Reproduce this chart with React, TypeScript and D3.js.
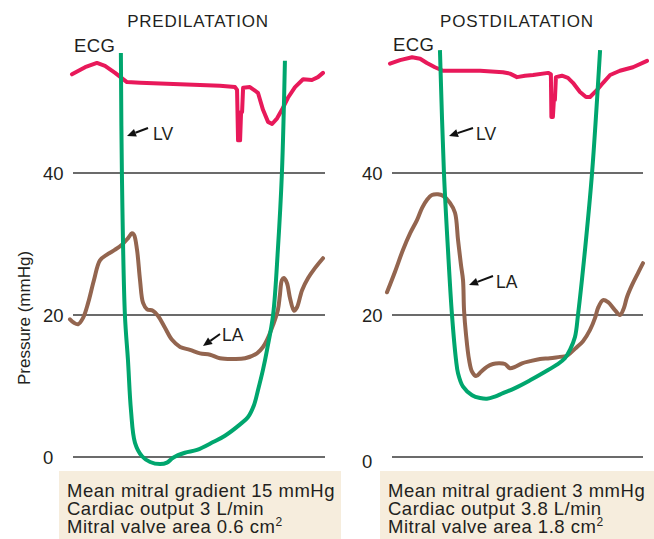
import React from "react";
import * as d3 from "d3";

// ---- data (time in % of cycle, pressure in mmHg) ----
const panelTitles = ["PREDILATATION", "POSTDILATATION"];
const yTicks = [0, 20, 40];

const predilEcg: [number, number][] = [
  [-0.4, 53.9], [4.8, 54.9], [9.5, 55.5], [12.7, 55.1], [16.7, 54.1], [21.4, 52.8],
  [26.6, 52.7], [42.5, 52.5], [58.3, 52.3], [64.3, 52.1], [65.1, 51.7], [65.5, 44.6],
  [66.3, 44.6], [66.7, 48.6], [67.1, 48.6], [67.5, 52.0], [70.2, 52.1], [73.4, 51.3],
  [75.4, 48.9], [77.4, 47.2], [79.0, 46.9], [81.0, 47.7], [82.9, 48.9], [85.3, 50.6],
  [88.1, 52.1], [91.3, 53.2], [94.8, 53.1], [97.2, 53.5], [99.2, 54.1],
];
const predilLv: [number, number][] = [
  [19.0, 56.9], [19.4, 40.0], [20.6, 20.0], [21.8, 13.7], [23.0, 6.6], [24.6, 2.0],
  [27.4, 0.1], [30.6, -0.7], [34.5, -1.0], [37.3, -0.8], [39.7, -0.1], [44.4, 0.6],
  [49.2, 1.0], [55.6, 2.1], [60.3, 3.0], [66.3, 4.6], [69.4, 5.6], [71.8, 7.3],
  [73.4, 9.4], [75.4, 12.3], [77.0, 15.1], [79.4, 20.0], [81.3, 29.2], [82.9, 40.0],
  [84.1, 55.8],
];
const predilLa: [number, number][] = [
  [-1.2, 19.4], [0.4, 18.9], [2.0, 18.7], [4.0, 19.6], [6.0, 21.7], [8.3, 24.9],
  [10.7, 27.7], [13.5, 28.5], [16.7, 29.2], [19.4, 29.9], [21.8, 30.8], [23.4, 31.5],
  [24.2, 31.3], [25.4, 29.2], [26.6, 24.9], [27.8, 21.7], [29.4, 20.8], [31.7, 20.6],
  [33.7, 19.9], [36.5, 18.2], [39.3, 16.5], [42.5, 15.5], [46.4, 15.1], [50.4, 14.6],
  [54.4, 14.4], [58.3, 13.9], [63.5, 13.8], [68.3, 13.9], [73.0, 14.6], [75.4, 15.5],
  [77.0, 16.5], [79.4, 18.6], [81.3, 20.7], [82.1, 22.8], [82.9, 24.9], [83.7, 25.2],
  [84.9, 24.5], [86.1, 22.4], [87.7, 20.6], [88.9, 21.1], [90.9, 23.5], [93.3, 25.2],
  [96.0, 26.6], [99.2, 28.0],
];

const postdilEcg: [number, number][] = [
  [-0.8, 55.4], [3.2, 55.9], [8.0, 56.3], [11.2, 56.1], [13.9, 55.5], [17.1, 54.9],
  [20.3, 54.4], [27.1, 54.4], [35.1, 54.4], [44.2, 54.2], [47.0, 54.0], [49.8, 53.5],
  [53.0, 53.7], [56.2, 53.8], [62.2, 54.1], [63.3, 53.9], [63.5, 47.9], [64.1, 47.9],
  [64.5, 50.3], [64.9, 50.3], [65.3, 53.5], [67.7, 53.7], [70.1, 53.4], [72.1, 52.7],
  [74.9, 51.4], [77.3, 50.7], [78.9, 50.7], [81.7, 51.7], [84.1, 52.7], [86.9, 53.8],
  [90.8, 54.4], [96.0, 54.9], [101.6, 55.8],
];
const postdilLv: [number, number][] = [
  [19.1, 57.3], [20.7, 40.0], [22.3, 29.2], [23.9, 20.0], [25.5, 13.7], [26.3, 11.8],
  [28.3, 9.9], [31.9, 8.7], [35.1, 8.3], [37.8, 8.2], [41.0, 8.5], [44.2, 9.0],
  [49.0, 9.7], [55.0, 10.8], [61.0, 12.0], [65.7, 13.0], [68.9, 13.9], [70.9, 15.1],
  [72.9, 16.9], [74.1, 20.0], [76.9, 29.2], [79.7, 40.0], [82.9, 57.3],
];
const postdilLa: [number, number][] = [
  [-2.0, 23.2], [1.2, 26.1], [4.4, 29.2], [7.2, 31.5], [10.0, 33.4], [12.0, 35.1],
  [13.9, 36.2], [15.9, 36.9], [18.3, 37.0], [20.3, 36.8], [23.1, 35.8], [25.1, 34.4],
  [26.3, 30.6], [27.5, 27.0], [28.3, 24.9], [28.7, 20.7], [29.5, 17.2], [30.7, 13.7],
  [31.9, 12.0], [33.5, 11.4], [35.5, 12.0], [37.8, 12.7], [40.2, 13.1], [42.6, 13.2],
  [45.0, 13.1], [47.0, 12.5], [49.0, 12.7], [51.8, 13.2], [55.0, 13.5], [59.0, 13.8],
  [62.9, 13.9], [66.9, 14.1], [69.3, 14.2], [70.9, 14.6], [73.7, 15.5], [76.1, 16.3],
  [78.9, 17.9], [80.9, 19.6], [82.1, 21.0], [84.1, 22.1], [86.1, 21.8], [88.8, 20.7],
  [90.8, 20.0], [92.4, 21.0], [93.6, 22.5], [95.6, 24.2], [98.0, 25.9], [100.0, 27.3],
];

const predilNotes = ["Mean mitral gradient 15 mmHg", "Cardiac output 3 L/min", "Mitral valve area 0.6 cm"];
const postdilNotes = ["Mean mitral gradient 3 mmHg", "Cardiac output 3.8 L/min", "Mitral valve area 1.8 cm"];

// ---- styling ----
const ECG_COLOR = "#e8195a";
const LV_COLOR = "#00a66e";
const LA_COLOR = "#93654f";
const GRID_COLOR = "#3a3a3a";
const BOX_FILL = "#f6eddd";
const FONT = "'Liberation Sans', Arial, Helvetica, sans-serif";
const TEXT_COLOR = "#231f20";

const W = 654;
const H = 539;

const y = d3.scaleLinear().domain([0, 40]).range([457, 173]);

type Panel = {
  title: string;
  x: d3.ScaleLinear<number, number>;
  ecg: [number, number][];
  lv: [number, number][];
  la: [number, number][];
  notes: string[];
  tickX: number;
  zeroDy: number;
  titleX: number;
  ecgLabel: [number, number];
  lvArrow: [number, number, number, number];
  lvText: [number, number];
  laArrow: [number, number, number, number];
  laText: [number, number];
  box: [number, number];
};

const panels: Panel[] = [
  {
    title: panelTitles[0],
    x: d3.scaleLinear().domain([0, 100]).range([73, 325]),
    ecg: predilEcg, lv: predilLv, la: predilLa, notes: predilNotes,
    tickX: 43, zeroDy: 0, titleX: 198,
    ecgLabel: [74, 52],
    lvArrow: [148, 128, 127, 136], lvText: [153, 140],
    laArrow: [220, 334, 203, 346], laText: [222, 341],
    box: [59, 341],
  },
  {
    title: panelTitles[1],
    x: d3.scaleLinear().domain([0, 100]).range([392, 643]),
    ecg: postdilEcg, lv: postdilLv, la: postdilLa, notes: postdilNotes,
    tickX: 362, zeroDy: 4, titleX: 517,
    ecgLabel: [393, 51],
    lvArrow: [473, 128, 449, 136], lvText: [476, 140],
    laArrow: [493, 276, 469, 285], laText: [496, 288],
    box: [380, 654],
  },
];

function Arrow({ a }: { a: [number, number, number, number] }) {
  const [x1, y1, x2, y2] = a;
  const ang = Math.atan2(y2 - y1, x2 - x1);
  const len = 9;
  const hw = 4;
  const bx = x2 - len * Math.cos(ang);
  const by = y2 - len * Math.sin(ang);
  const px = -Math.sin(ang) * hw;
  const py = Math.cos(ang) * hw;
  return (
    <g>
      <line x1={x1} y1={y1} x2={bx} y2={by} stroke="#111" strokeWidth={2} />
      <path d={`M${x2},${y2}L${bx + px},${by + py}L${bx - px},${by - py}Z`} fill="#111" />
    </g>
  );
}

export default function App() {
  return (
    <svg
      width={W}
      height={H}
      viewBox={`0 0 ${W} ${H}`}
      style={{ position: "absolute", left: 0, top: 0, background: "#fff" }}
      fontFamily={FONT}
    >
      <rect x={0} y={0} width={W} height={H} fill="#fff" />
      {/* y axis title */}
      <text
        transform="translate(30,318) rotate(-90)"
        textAnchor="middle"
        fontSize={17}
        fill={TEXT_COLOR}
      >
        Pressure (mmHg)
      </text>
      {panels.map((p, i) => {
        const x = p.x;
        const smooth = d3
          .line<[number, number]>()
          .x((d) => x(d[0]))
          .y((d) => y(d[1]))
          .curve(d3.curveCatmullRom.alpha(0.5));
        const lin = d3
          .line<[number, number]>()
          .x((d) => x(d[0]))
          .y((d) => y(d[1]));
        return (
          <g key={i}>
            <text x={p.titleX} y={27} textAnchor="middle" fontSize={17} letterSpacing={0.8} fill={TEXT_COLOR}>
              {p.title}
            </text>
            {yTicks.map((t) => (
              <g key={t}>
                <line x1={x(0)} x2={x(100)} y1={y(t)} y2={y(t)} stroke={GRID_COLOR} strokeWidth={1.3} />
                <text
                  x={p.tickX}
                  y={y(t) + (t === 0 ? p.zeroDy : 0)}
                  dy="0.36em"
                  fontSize={18.5}
                  fill={TEXT_COLOR}
                >
                  {t}
                </text>
              </g>
            ))}
            <text x={p.ecgLabel[0]} y={p.ecgLabel[1]} fontSize={18.5} letterSpacing={0.4} fill={TEXT_COLOR}>
              ECG
            </text>
            <path d={lin(p.ecg) || ""} fill="none" stroke={ECG_COLOR} strokeWidth={4} strokeLinejoin="round" strokeLinecap="round" />
            <path d={smooth(p.la) || ""} fill="none" stroke={LA_COLOR} strokeWidth={4} strokeLinejoin="round" strokeLinecap="round" />
            <path d={smooth(p.lv) || ""} fill="none" stroke={LV_COLOR} strokeWidth={4} strokeLinejoin="round" />
            <Arrow a={p.lvArrow} />
            <text x={p.lvText[0]} y={p.lvText[1]} fontSize={17.5} fill={TEXT_COLOR}>LV</text>
            <Arrow a={p.laArrow} />
            <text x={p.laText[0]} y={p.laText[1]} fontSize={17.5} fill={TEXT_COLOR}>LA</text>
            <rect x={p.box[0]} y={471} width={p.box[1] - p.box[0]} height={H - 471} fill={BOX_FILL} />
            {p.notes.map((n, j) => (
              <text key={j} x={p.box[0] + 8} y={497 + j * 18} fontSize={18.5} letterSpacing={0.5} fill={TEXT_COLOR}>
                {n}
                {j === 2 ? (
                  <tspan fontSize={12} dy={-7}>2</tspan>
                ) : null}
              </text>
            ))}
          </g>
        );
      })}
    </svg>
  );
}
